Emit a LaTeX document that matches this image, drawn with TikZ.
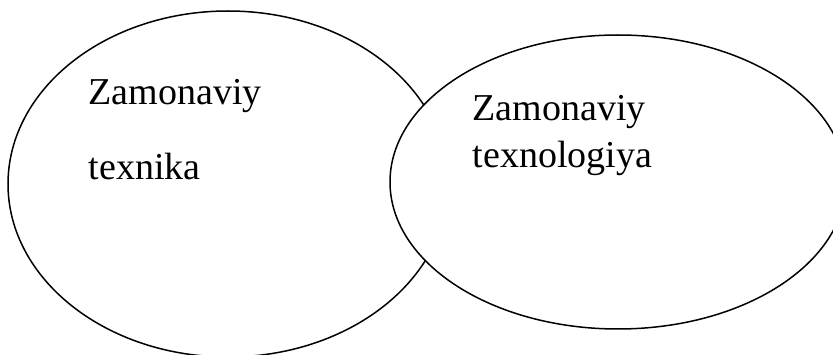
\documentclass[tikz,border=0pt]{standalone}
\usepackage{fontspec}
\setmainfont{Liberation Serif}
\usepackage{tikz}

\begin{document}
\begin{tikzpicture}[x=1pt, y=-1pt, line width=1.5pt,
		word/.style={anchor=base west, inner sep=0pt, font=\fontsize{38}{44}\selectfont}]
			\useasboundingbox (0,0) rectangle (833,355);

			\draw (228,184) ellipse (220 and 173); % left
			\draw[fill=white] (618,182) ellipse (228 and 147); % right

			\foreach \n/\x/\y/\t in {tl/88/105/Zamonaviy, tk/88/180/texnika, rl/472/121/Zamonaviy, rk/472/168/texnologiya} {
			\node[word] (\n) at (\x,\y) {\t}; }
		\end{tikzpicture}
\end{document}
